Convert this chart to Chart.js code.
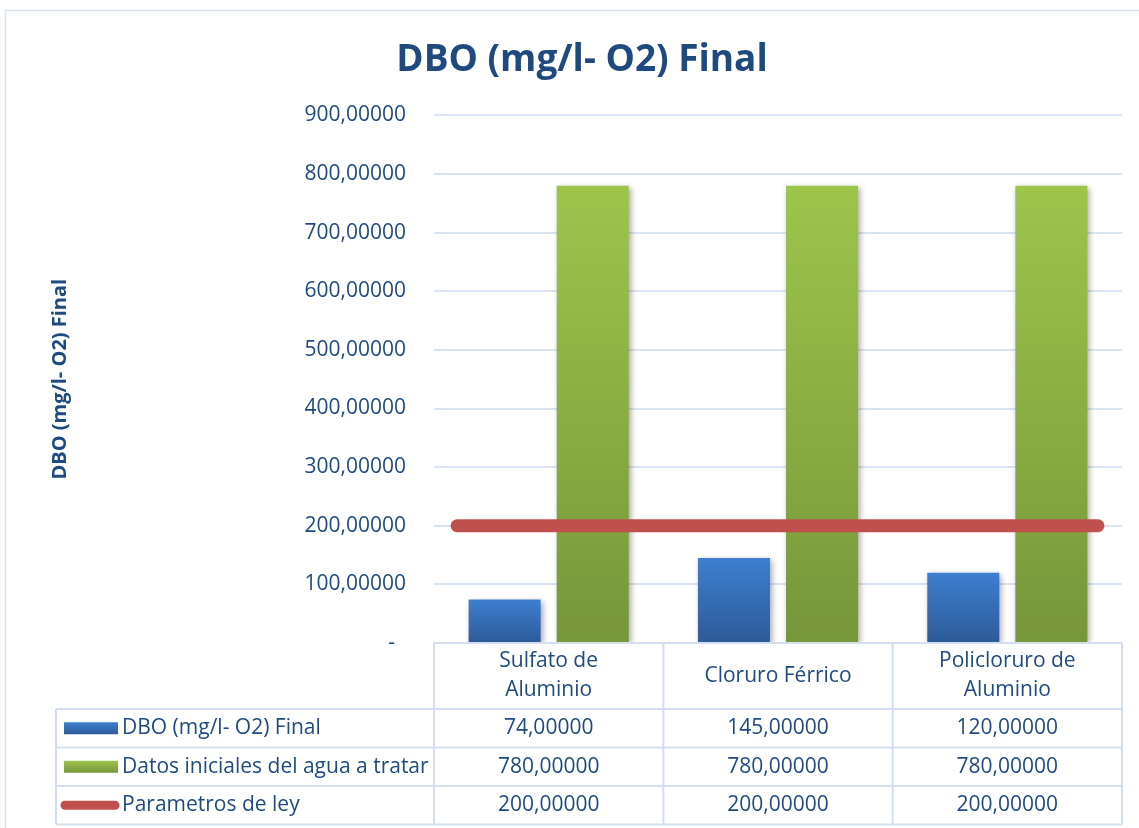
<!DOCTYPE html>
<html>
<head>
<meta charset="utf-8">
<title>DBO (mg/l- O2) Final</title>
<script src="https://cdn.jsdelivr.net/npm/chart.js@4"></script>
<style>
	body { margin: 0; background: #fff; }
	#wrap { width: 1139px; height: 828px; }
</style>
</head>
<body>
<div id="wrap"><canvas id="myChart" width="1139" height="828"></canvas></div>
<script>
// data
var categories = [['Sulfato de', 'Aluminio'], ['Cloruro Férrico'], ['Policloruro de', 'Aluminio']];
var seriesNames = ['DBO (mg/l- O2) Final', 'Datos iniciales del agua a tratar', 'Parametros de ley'];
var dboFinal = [74, 145, 120];
var datosIniciales = [780, 780, 780];
var parametrosLey = [200, 200, 200];
var yTicks = [0, 100, 200, 300, 400, 500, 600, 700, 800, 900];

var textColor = '#1f4a7f';
var lineColor = '#d3dff0';
var fontName = "'Open Sans', sans-serif";

function fmt(v) {
	if (v === 0) return '-  ';
	return v.toFixed(5).replace('.', ',');
}

function barGradient(light, dark) {
	return function(context) {
		var chart = context.chart;
		if (!chart.chartArea) return dark;
		var y = chart.scales.y;
		var top = y.getPixelForValue(context.raw);
		var bottom = y.getPixelForValue(0);
		if (!isFinite(top) || top === bottom) return dark;
		var g = chart.ctx.createLinearGradient(0, top, 0, bottom);
		g.addColorStop(0, light);
		g.addColorStop(1, dark);
		return g;
	};
}

var framePlugin = {
	id: 'frame',
	beforeDraw: function(chart) {
		var ctx = chart.ctx;
		ctx.save();
		ctx.fillStyle = '#fff';
		ctx.fillRect(0, 0, chart.width, chart.height);
		ctx.strokeStyle = '#d6e2f2';
		ctx.lineWidth = 1.5;
		ctx.strokeRect(5.5, 10.5, chart.width + 50, chart.height + 50);
		ctx.restore();
	}
};

// soft shadow under the bars
var shadowPlugin = {
	id: 'barShadow',
	beforeDatasetDraw: function(chart, args) {
		if (args.meta.type !== 'bar') return;
		var ctx = chart.ctx;
		ctx.save();
		ctx.shadowColor = 'rgba(0,0,0,0.35)';
		ctx.shadowBlur = 6;
		ctx.shadowOffsetX = 2;
		ctx.shadowOffsetY = 2;
	},
	afterDatasetDraw: function(chart, args) {
		if (args.meta.type !== 'bar') return;
		chart.ctx.restore();
	}
};

// data table under the plot
var tablePlugin = {
	id: 'dataTable',
	afterDraw: function(chart) {
		var ctx = chart.ctx;
		var area = chart.chartArea;
		var x = chart.scales.x;
		var top = area.bottom;
		var headerH = 66;
		var rowH = 38.5;
		var legendLeft = 56;
		var bottom = top + headerH + rowH * 3;
		var catW = (area.right - area.left) / categories.length;
		var rows = [dboFinal, datosIniciales, parametrosLey];

		ctx.save();
		ctx.strokeStyle = lineColor;
		ctx.lineWidth = 2;
		ctx.beginPath();
		// vertical lines
		for (var i = 0; i <= categories.length; i++) {
			var vx = area.left + catW * i;
			ctx.moveTo(vx, top);
			ctx.lineTo(vx, bottom);
		}
		ctx.moveTo(legendLeft, top + headerH);
		ctx.lineTo(legendLeft, bottom);
		// horizontal lines
		ctx.moveTo(area.left, top);
		ctx.lineTo(area.right, top);
		for (var r = 0; r <= 3; r++) {
			var hy = top + headerH + rowH * r;
			ctx.moveTo(legendLeft, hy);
			ctx.lineTo(area.right, hy);
		}
		ctx.stroke();

		ctx.fillStyle = textColor;
		ctx.font = '21px ' + fontName;
		ctx.textAlign = 'center';
		ctx.textBaseline = 'middle';
		categories.forEach(function(lines, i) {
			var cx = x.getPixelForValue(i);
			var cy = top + headerH / 2;
			lines.forEach(function(t, k) {
				ctx.fillText(t, cx, cy + (k - (lines.length - 1) / 2) * 29);
			});
			rows.forEach(function(vals, r) {
				ctx.fillText(fmt(vals[i]), cx, top + headerH + rowH * r + rowH / 2);
			});
		});

		// legend keys and names
		ctx.textAlign = 'left';
		rows.forEach(function(vals, r) {
			var cy = top + headerH + rowH * r + rowH / 2;
			if (r < 2) {
				var g = ctx.createLinearGradient(0, cy - 6, 0, cy + 6);
				g.addColorStop(0, r === 0 ? '#3d7fd0' : '#9dc54b');
				g.addColorStop(1, r === 0 ? '#2d5a98' : '#76963a');
				ctx.fillStyle = g;
				ctx.fillRect(64, cy - 6, 54, 12);
			} else {
				ctx.strokeStyle = '#c0504d';
				ctx.lineWidth = 9;
				ctx.lineCap = 'round';
				ctx.beginPath();
				ctx.moveTo(65, cy);
				ctx.lineTo(115, cy);
				ctx.stroke();
			}
			ctx.fillStyle = textColor;
			ctx.fillText(seriesNames[r], 122, cy);
		});
		ctx.restore();
	}
};

var ctx = document.getElementById('myChart').getContext('2d');
var chart = new Chart(ctx, {
	type: 'bar',
	data: {
		labels: categories.map(function(c) { return c.join(' '); }),
		datasets: [{
			label: seriesNames[0],
			indexAxis: 'x',
			data: dboFinal,
			backgroundColor: barGradient('#3d7fd0', '#2d5a98'),
			categoryPercentage: 0.768,
			barPercentage: 0.818,
			order: 1
		}, {
			label: seriesNames[1],
			indexAxis: 'x',
			data: datosIniciales,
			backgroundColor: barGradient('#9dc54b', '#76963a'),
			categoryPercentage: 0.768,
			barPercentage: 0.818,
			order: 1
		}, {
			type: 'line',
			label: seriesNames[2],
			indexAxis: 'x',
			data: parametrosLey.map(function(v, i) { return {x: i, y: v}; }),
			xAxisID: 'x2',
			borderColor: '#c0504d',
			borderWidth: 13,
			borderCapStyle: 'round',
			pointRadius: 0,
			fill: false,
			order: 0
		}]
	},
	options: {
		// chart level 'y' so the hidden second x axis is not counted when grouping bars
		indexAxis: 'y',
		responsive: false,
		animation: false,
		events: [],
		layout: {
			padding: {left: 42, right: 17, top: 10, bottom: 185}
		},
		plugins: {
			legend: {display: false},
			tooltip: {enabled: false},
			title: {
				display: true,
				text: 'DBO (mg/l- O2) Final',
				color: textColor,
				font: {family: fontName, size: 37, weight: 'bold', lineHeight: 1.2},
				padding: {top: 28, bottom: 33}
			}
		},
		scales: {
			x: {
				type: 'category',
				axis: 'x',
				position: 'bottom',
				display: false,
				offset: true,
				grid: {offset: true}
			},
			x2: {
				type: 'linear',
				axis: 'x',
				position: 'bottom',
				display: false,
				offset: false,
				grid: {offset: false},
				min: -0.072,
				max: 2.075
			},
			y: {
				type: 'linear',
				axis: 'y',
				position: 'left',
				offset: false,
				min: 0,
				max: 900,
				afterBuildTicks: function(scale) {
					scale.ticks = yTicks.map(function(v) { return {value: v}; });
				},
				afterFit: function(scale) {
					scale.width = 392;
				},
				border: {display: false},
				grid: {color: '#d9e4f3', lineWidth: 2, drawTicks: false, offset: false},
				ticks: {
					color: textColor,
					padding: 28,
					font: {family: fontName, size: 21},
					callback: function(v) { return fmt(v); }
				},
				title: {
					display: true,
					text: 'DBO (mg/l- O2) Final',
					color: textColor,
					font: {family: fontName, size: 20, weight: 'bold', lineHeight: 1.2},
					padding: {top: 6, bottom: 0}
				}
			}
		}
	},
	plugins: [framePlugin, shadowPlugin, tablePlugin]
});
</script>
</body>
</html>
